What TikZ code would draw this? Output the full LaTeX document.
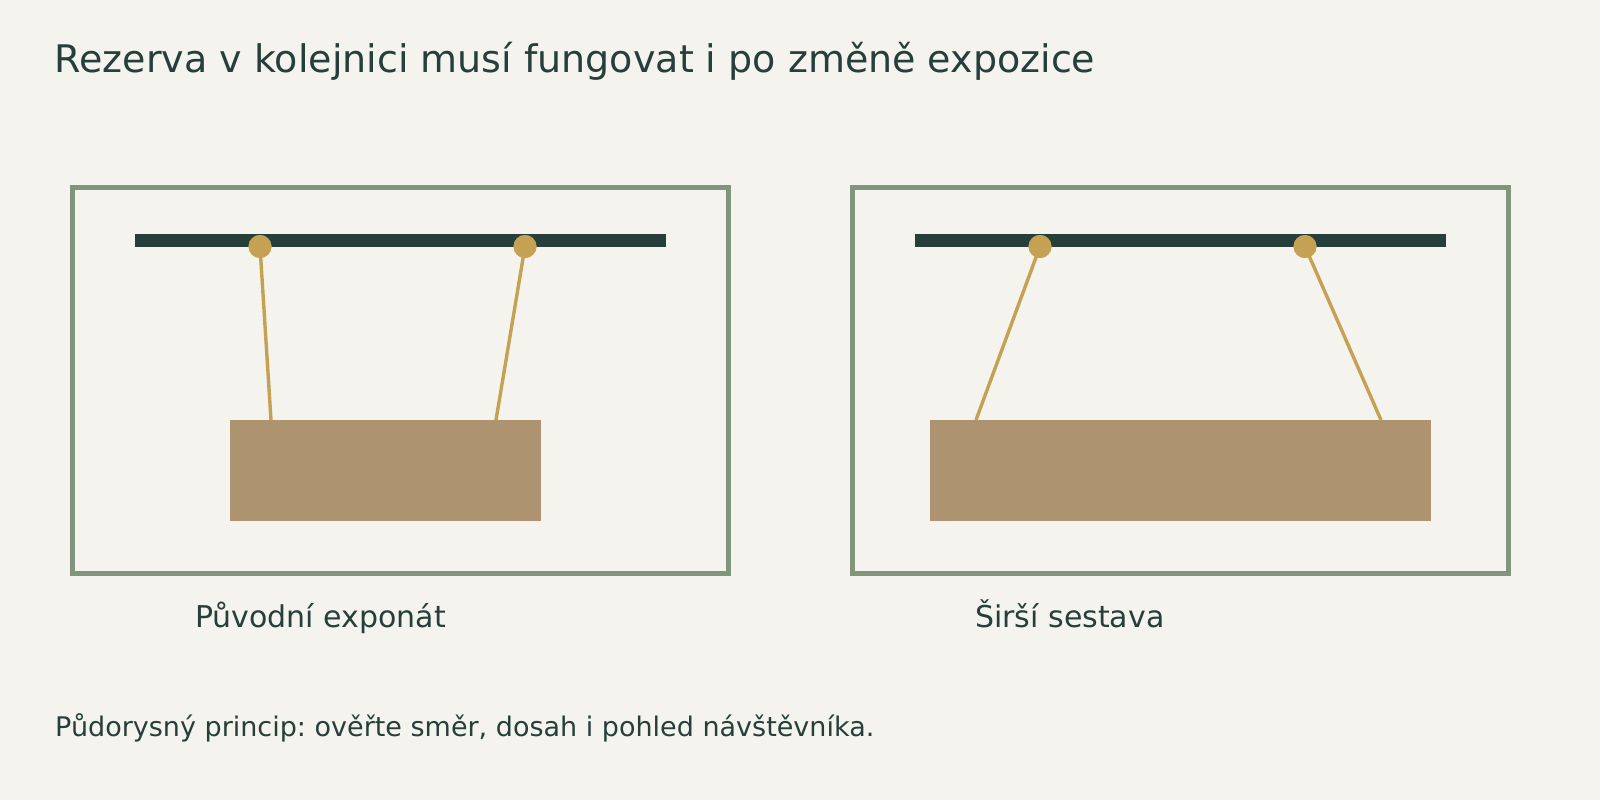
\documentclass[tikz,border=0pt]{standalone}
\usepackage{fontspec}
\setmainfont{DejaVu Sans}
\frenchspacing
\definecolor{bgc}{HTML}{F4F3EE}
\definecolor{framec}{HTML}{80957C}
\definecolor{barc}{HTML}{263F3B}
\definecolor{goldc}{HTML}{C5A253}
\definecolor{boxc}{HTML}{AD9370}
\definecolor{textc}{HTML}{263F3B}
\begin{document}
\begin{tikzpicture}[x=1pt,y=-1pt,
  panel/.style={draw=framec,line width=5pt},
  rail/.style={fill=barc},
  exhibit/.style={fill=boxc},
  hanger/.style={circle,fill=goldc,inner sep=0pt,minimum size=23pt},
  wire/.style={draw=goldc,line width=3.4pt},
  txt/.style={anchor=base west,inner sep=0pt,text=textc}]
\fill[bgc] (0,0) rectangle (1600,800);
\useasboundingbox (0,0) rectangle (1600,800);
\node[txt,font=\fontsize{38}{44}\selectfont] (title) at (54.5,72.3) {Rezerva v kolejnici musí fungovat i po změně expozice};
% left panel
\draw[panel] (72.5,187.5) rectangle (728.5,573.5);
\fill[rail] (135,234) rectangle (666,247);
\node[exhibit,draw=none,inner sep=0pt,minimum width=311pt,minimum height=101pt,anchor=north west] (boxL) at (230,420) {};
\coordinate (aL1) at (271,420);
\coordinate (aL2) at (496,420);
\node[hanger] (hL1) at (260,246.5) {};
\node[hanger] (hL2) at (525,246.5) {};
\draw[wire] (hL1.center) -- (aL1);
\draw[wire] (hL2.center) -- (aL2);
\node[hanger] at (hL1) {};
\node[hanger] at (hL2) {};
\node[txt,font=\fontsize{30}{36}\selectfont] (capL) at (195,627.7) {Původní exponát};
% right panel
\draw[panel] (852.5,187.5) rectangle (1508.5,573.5);
\fill[rail] (915,234) rectangle (1446,247);
\node[exhibit,draw=none,inner sep=0pt,minimum width=501pt,minimum height=101pt,anchor=north west] (boxR) at (930,420) {};
\coordinate (aR1) at (976,420);
\coordinate (aR2) at (1381,420);
\node[hanger] (hR1) at (1040,246.5) {};
\node[hanger] (hR2) at (1305,246.5) {};
\draw[wire] (hR1.center) -- (aR1);
\draw[wire] (hR2.center) -- (aR2);
\node[hanger] at (hR1) {};
\node[hanger] at (hR2) {};
\node[txt,font=\fontsize{30}{36}\selectfont] (capR) at (975,627.7) {Širší sestava};
\node[txt,font=\fontsize{27}{32}\selectfont] (foot) at (55,736) {Půdorysný princip: ověřte směr, dosah i pohled návštěvníka.};
\end{tikzpicture}
\end{document}
